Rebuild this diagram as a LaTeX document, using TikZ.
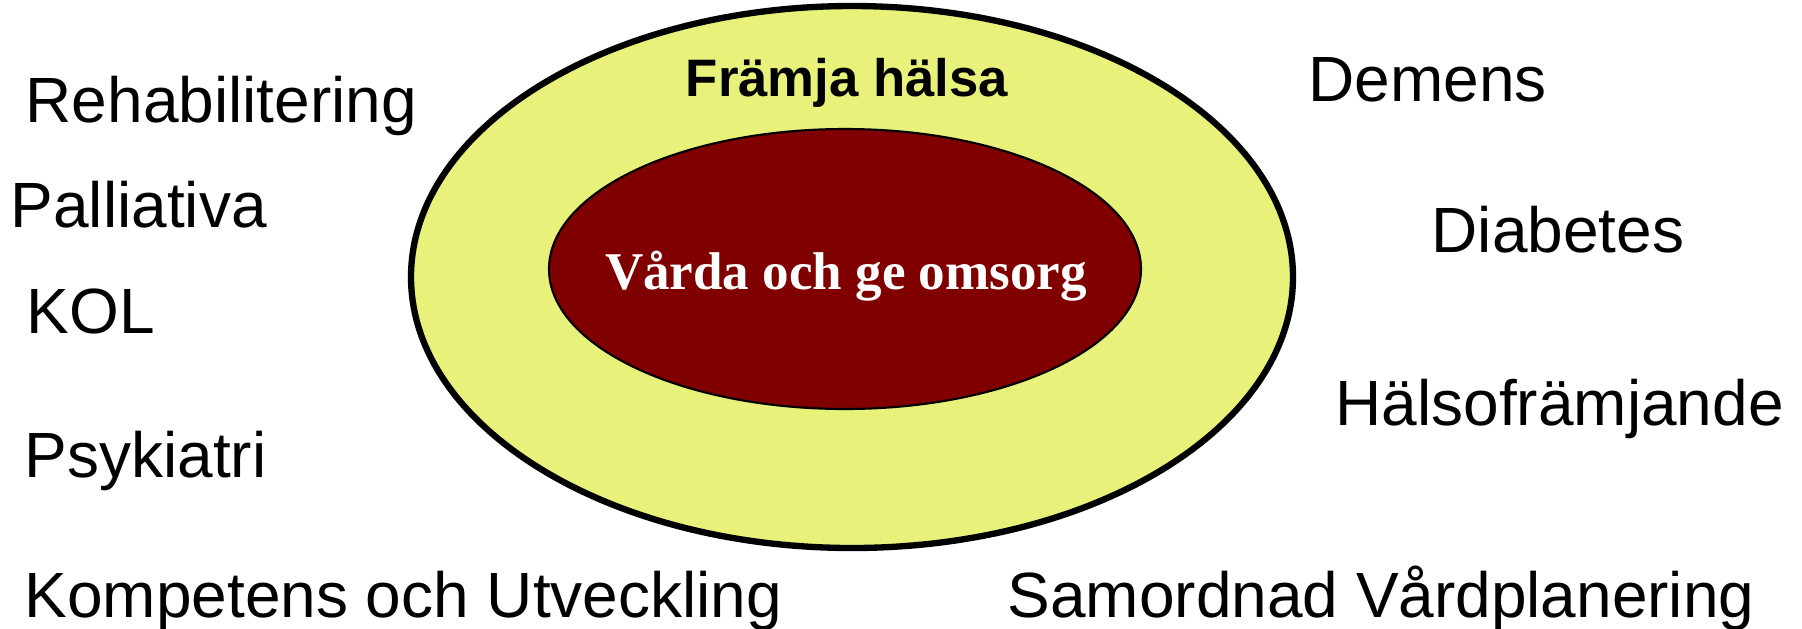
\documentclass[tikz,border=0pt]{standalone}
\usepackage{fontspec}
\setmainfont{Liberation Sans}
\newfontfamily\serifbold{Liberation Serif}
\usetikzlibrary{shapes.geometric}

\definecolor{paleyellow}{HTML}{E8F27B}
\definecolor{darkred}{HTML}{800000}

\tikzset{
  area/.style={anchor=base west, inner sep=0pt, font=\fontsize{18.2}{21}\selectfont},
  ring/.style={ellipse, draw, inner sep=0pt},
}

\begin{document}
\begin{tikzpicture}[x=0.1mm, y=-0.1mm]
      \useasboundingbox (0,0) rectangle (1802,628);

      \node[ring, fill=paleyellow, line width=1.8pt, minimum width=88.2mm, minimum height=54.2mm] (outer) at (852,277) {};
      \node[ring, fill=darkred, line width=0.6pt, minimum width=59.2mm, minimum height=28mm] (inner) at (845,269) {};
      \node[anchor=base, inner sep=0pt, font=\bfseries\fontsize{15}{18}\selectfont] (framja) at (847,96) {Främja hälsa};
      \node[anchor=base, inner sep=0pt, text=white, font=\serifbold\bfseries\fontsize{15.1}{18}\selectfont] (varda) at (846,289) {Vårda och ge omsorg};

      % left side
      \node[area] (rehab) at (25,122) {Rehabilitering};
      \node[area] (palliativa) at (10,227) {Palliativa};
      \node[area] (kol) at (26,333) {KOL};
      \node[area] (psyk) at (24,477) {Psykiatri};
      \node[area] (kompetens) at (24,617) {Kompetens och Utveckling};

      % right side
      \node[area] (demens) at (1308,101) {Demens};
      \node[area] (diabetes) at (1431,252) {Diabetes};
      \node[area] (halso) at (1335,425) {Hälsofrämjande};
      \node[area] (samordnad) at (1007,617) {Samordnad Vårdplanering};
\end{tikzpicture}
\end{document}
